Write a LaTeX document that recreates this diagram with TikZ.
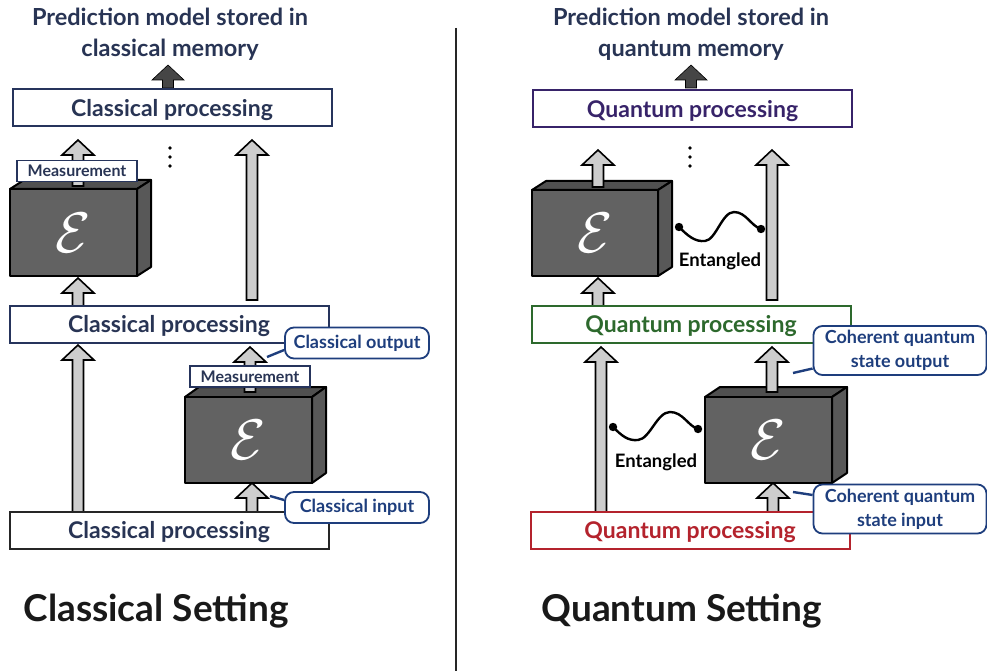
\documentclass[tikz,border=0pt]{standalone}
\usepackage{fontspec}
\setmainfont{Lato}
\definecolor{navytxt}{RGB}{40,52,84}
\definecolor{navybd}{RGB}{38,52,92}
\definecolor{qpurple}{RGB}{55,35,105}
\definecolor{qgreen}{RGB}{45,105,45}
\definecolor{qred}{RGB}{180,35,45}
\definecolor{calloutc}{RGB}{30,62,125}
\definecolor{garrowfill}{RGB}{205,205,205}
\definecolor{darrowfill}{RGB}{70,70,70}
\definecolor{efront}{RGB}{98,98,98}
\definecolor{etop}{RGB}{80,80,80}
\definecolor{eside}{RGB}{88,88,88}
\tikzset{
  garrow/.style={draw=black, fill=garrowfill, line width=1.6pt, line join=miter},
  darrow/.style={draw=black, fill=darrowfill, line width=0.6pt},
  eface/.style={draw=black, line width=2pt, line join=round},
  etext/.style={text=white, inner sep=0pt},
  proc/.style={draw, fill=white, line width=2pt, minimum width=319pt, minimum height=37pt, inner sep=0pt, text depth=0pt, font=\bfseries\fontsize{23}{23}\selectfont},
  meas/.style={draw=navybd, fill=white, line width=1.7pt, minimum width=120pt, minimum height=21pt, inner sep=0pt, text=navytxt, font=\bfseries\fontsize{16}{16}\selectfont},
  callout/.style={draw=calloutc, fill=white, line width=1.8pt, rounded corners=9pt, inner sep=0pt, text=calloutc, align=center, font=\bfseries\fontsize{18}{24}\selectfont},
  conn/.style={draw=calloutc, line width=2.4pt},
  title/.style={text=navytxt, align=center, font=\bfseries\fontsize{23.5}{31}\selectfont},
  setting/.style={text=black!90, font=\bfseries\fontsize{37}{37}\selectfont},
  wave/.style={draw=black, line width=2.4pt},
  ent/.style={text=black, font=\bfseries\fontsize{18.5}{18.5}\selectfont},
}
% block arrow: [style]{x center}{y tip}{y bottom}
\newcommand\blkarrow[4][garrow]{\draw[#1] (#2-5.5,#4) -- (#2-5.5,#3+15) -- (#2-16,#3+15) -- (#2,#3) -- (#2+16,#3+15) -- (#2+5.5,#3+15) -- (#2+5.5,#4) -- cycle;}
% E box: {name}{x1}{y1}{x2}{y2}{dx}{dy}
\newcommand\ebox[7]{%
  \draw[eface, fill=etop] (#2,#3) -- (#2+#6,#3-#7) -- (#4+#6,#3-#7) -- (#4,#3) -- cycle;
  \draw[eface, fill=eside] (#4,#3) -- (#4+#6,#3-#7) -- (#4+#6,#5-#7) -- (#4,#5) -- cycle;
  \draw[eface, fill=efront] (#2,#3) rectangle (#4,#5);
  \node[etext] (#1) at ({(#2+#4)/2},{(#3+#5)/2}) {\scalebox{2.3}{\fontsize{24.88}{25}\selectfont$\mathcal{E}$}};
}
\begin{document}
\begin{tikzpicture}[x=1pt,y=-1pt]
\useasboundingbox (0,0) rectangle (987,671);
\fill[white] (0,0) rectangle (987,671);

% divider
\draw[line width=1.5pt, black!85] (456,28) -- (456,671);

% ---------------- Classical side ----------------
\node[title] (ctitle) at (170,34) {Prediction model stored in\\classical memory};
\blkarrow[darrow]{168}{65}{88}
\node[proc, draw=navybd, text=navytxt] (cp3) at (172,108) {Classical processing};
\fill (170,148) circle (1.8) (170,157) circle (1.8) (170,166) circle (1.8);

% upper E box
\blkarrow{78}{278}{306}
\ebox{e1}{10}{189}{137}{276}{14}{9}
\blkarrow{78}{140}{186}
\node[meas] (m1) at (77,171) {Measurement};
\blkarrow{252}{140}{300}

\node[proc, draw=navybd, text=navytxt] (cp2) at (169,324) {Classical processing};

% lower E box
\blkarrow{78}{345}{512}
\blkarrow{252}{483}{512}
\ebox{e2}{185}{397}{312}{483}{14}{10}
\blkarrow{250}{347}{392}
\node[meas] (m2) at (250,376.5) {Measurement};

\node[proc, draw=black!85, text=navytxt] (cp1) at (169,530) {Classical processing};

\node[callout, minimum width=144pt, minimum height=31pt] (co) at (357,343) {Classical output};
\coordinate (coT) at (267,357);
\draw[conn] ([yshift=-7pt]co.west) -- (coT);
\node[callout, minimum width=144pt, minimum height=31pt] (ci) at (357,507.5) {Classical input};
\coordinate (ciT) at (270,496);
\draw[conn] ([yshift=7.5pt]ci.west) -- (ciT);

\node[setting, anchor=west] (cset) at (20,611) {Classical Setting};

% ---------------- Quantum side ----------------
\node[title] (qtitle) at (691,34) {Prediction model stored in\\quantum memory};
\blkarrow[darrow]{691}{65}{88}
\node[proc, draw=qpurple, text=qpurple] (qp3) at (692.5,108.5) {Quantum processing};
\fill (690,148) circle (1.8) (690,157) circle (1.8) (690,166) circle (1.8);

% upper E box
\blkarrow{598}{278}{306}
\ebox{e3}{532}{190}{658}{276}{14}{9}
\blkarrow{598}{150}{187}
\blkarrow{772}{150}{300}

\coordinate (wa) at (679,227);
\coordinate (wb) at (761,229);
\draw[wave] (wa) .. controls (688,236) and (695,242) .. (705,241) .. controls (716,240) and (722,212) .. (734,212) .. controls (746,212) and (751,226) .. (wb);
\fill (wa) circle (4.2) (wb) circle (4.2);
\node[ent] (ent1) at (720,261) {Entangled};

\node[proc, draw=qgreen, text=qgreen] (qp2) at (691,324) {Quantum processing};

% lower E box
\blkarrow{601}{347}{512}
\blkarrow{773}{483}{512}
\ebox{e4}{705}{397}{832}{483}{15}{10}
\blkarrow{772}{347}{392}

\coordinate (wc) at (613,427);
\coordinate (wd) at (698,429);
\draw[wave] (wc) .. controls (622,436) and (628,441) .. (638,440) .. controls (650,439) and (657,412) .. (670,412) .. controls (683,412) and (688,426) .. (wd);
\fill (wc) circle (4.2) (wd) circle (4.2);
\node[ent] (ent2) at (656,462) {Entangled};

\node[proc, draw=qred, text=qred] (qp1) at (690,530) {Quantum processing};

\node[callout, minimum width=173pt, minimum height=49pt] (qo) at (900,350.5) {Coherent quantum\\state output};
\coordinate (qoT) at (793,373);
\draw[conn] ([yshift=-18pt]qo.west) -- (qoT);
\node[callout, minimum width=173pt, minimum height=49pt] (qi) at (900,509) {Coherent quantum\\state input};
\coordinate (qiT) at (793,492);
\draw[conn] ([yshift=14pt]qi.west) -- (qiT);

\node[setting, anchor=west] (qset) at (538,611) {Quantum Setting};
\end{tikzpicture}
\end{document}
